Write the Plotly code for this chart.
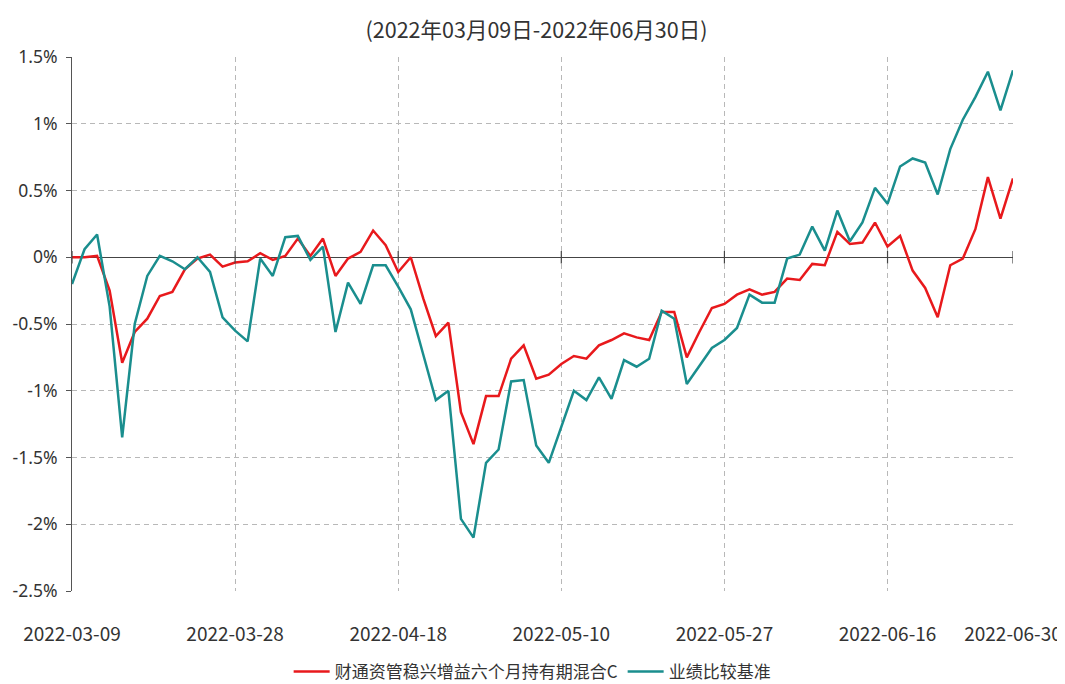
import plotly.graph_objects as go

dates = [
    "2022-03-09", "2022-03-10", "2022-03-11", "2022-03-14", "2022-03-15", "2022-03-16", "2022-03-17", "2022-03-18",
    "2022-03-21", "2022-03-22", "2022-03-23", "2022-03-24", "2022-03-25", "2022-03-28", "2022-03-29", "2022-03-30",
    "2022-03-31", "2022-04-01", "2022-04-06", "2022-04-07", "2022-04-08", "2022-04-11", "2022-04-12", "2022-04-13",
    "2022-04-14", "2022-04-15", "2022-04-18", "2022-04-19", "2022-04-20", "2022-04-21", "2022-04-22", "2022-04-25",
    "2022-04-26", "2022-04-27", "2022-04-28", "2022-04-29", "2022-05-05", "2022-05-06", "2022-05-09", "2022-05-10",
    "2022-05-11", "2022-05-12", "2022-05-13", "2022-05-16", "2022-05-17", "2022-05-18", "2022-05-19", "2022-05-20",
    "2022-05-23", "2022-05-24", "2022-05-25", "2022-05-26", "2022-05-27", "2022-05-30", "2022-05-31", "2022-06-01",
    "2022-06-02", "2022-06-06", "2022-06-07", "2022-06-08", "2022-06-09", "2022-06-10", "2022-06-13", "2022-06-14",
    "2022-06-15", "2022-06-16", "2022-06-17", "2022-06-20", "2022-06-21", "2022-06-22", "2022-06-23", "2022-06-24",
    "2022-06-27", "2022-06-28", "2022-06-29", "2022-06-30",
]

fund = [
    0.00, 0.00, 0.01, -0.25, -0.79, -0.56, -0.46, -0.29, -0.26, -0.09,
    -0.01, 0.02, -0.07, -0.04, -0.03, 0.03, -0.02, 0.01, 0.14, 0.01,
    0.14, -0.14, -0.01, 0.04, 0.20, 0.09, -0.11, 0.00, -0.31, -0.59,
    -0.49, -1.16, -1.40, -1.04, -1.04, -0.76, -0.66, -0.91, -0.88, -0.80,
    -0.74, -0.76, -0.66, -0.62, -0.57, -0.60, -0.62, -0.41, -0.41, -0.75,
    -0.56, -0.38, -0.35, -0.28, -0.24, -0.28, -0.26, -0.16, -0.17, -0.05,
    -0.06, 0.19, 0.10, 0.11, 0.26, 0.08, 0.16, -0.10, -0.23, -0.45,
    -0.06, -0.01, 0.21, 0.60, 0.29, 0.59,
]

bench = [
    -0.20, 0.06, 0.17, -0.37, -1.35, -0.50, -0.14, 0.01, -0.03, -0.09,
    0.00, -0.11, -0.45, -0.55, -0.63, -0.01, -0.14, 0.15, 0.16, -0.02,
    0.08, -0.56, -0.19, -0.35, -0.06, -0.06, -0.22, -0.39, -0.73, -1.07,
    -1.00, -1.96, -2.10, -1.54, -1.44, -0.93, -0.92, -1.41, -1.54, -1.27,
    -1.00, -1.07, -0.90, -1.06, -0.77, -0.82, -0.76, -0.40, -0.46, -0.95,
    -0.81, -0.68, -0.62, -0.53, -0.28, -0.34, -0.34, -0.01, 0.02, 0.23,
    0.05, 0.35, 0.12, 0.26, 0.52, 0.40, 0.68, 0.74, 0.71, 0.47,
    0.81, 1.03, 1.20, 1.39, 1.10, 1.40,
]

tick_dates = ["2022-03-09", "2022-03-28", "2022-04-18", "2022-05-10", "2022-05-27", "2022-06-16", "2022-06-30"]
y_ticks = [1.5, 1, 0.5, 0, -0.5, -1, -1.5, -2, -2.5]
y_tick_text = ["1.5%", "1%", "0.5%", "0%", "-0.5%", "-1%", "-1.5%", "-2%", "-2.5%"]

fund_name = "财通资管稳兴增益六个月持有期混合C"
bench_name = "业绩比较基准"
title_text = "(2022年03月09日-2022年06月30日)"

RED = "#e8191c"
TEAL = "#1a8e8e"
CJK = "Noto Sans CJK SC, Noto Sans, sans-serif"

FIG_W, FIG_H = 1057, 676  # page body has an 8px margin

fig = go.Figure()
fig.add_trace(go.Scatter(x=dates, y=fund, mode="lines", name=fund_name,
                         line=dict(color=RED, width=2.5)))
fig.add_trace(go.Scatter(x=dates, y=bench, mode="lines", name=bench_name,
                         line=dict(color=TEAL, width=2.5)))
# small tick marks on the zero axis line
fig.add_trace(go.Scatter(x=tick_dates, y=[0] * len(tick_dates), mode="markers",
                         marker=dict(symbol="line-ns", size=9,
                                     line=dict(color="#444", width=1.2)),
                         showlegend=False, hoverinfo="skip"))

fig.update_layout(
    width=FIG_W, height=FIG_H,
    paper_bgcolor="white", plot_bgcolor="white",
    margin=dict(l=64, r=52, t=49, b=93, autoexpand=False),
    title=dict(text=title_text, x=0.5, xanchor="center", y=1 - 22 / FIG_H, yanchor="middle",
               font=dict(family=CJK, size=21.5, color="#333")),
    showlegend=True,
    legend=dict(orientation="h", x=0.489, xanchor="center", y=-0.118, yanchor="top",
                font=dict(family=CJK, size=17, color="#333"), itemwidth=36,
                traceorder="normal"),
    xaxis=dict(type="category", categoryorder="array", categoryarray=dates,
               range=[0, len(dates) - 1], automargin=False,
               tickmode="array", tickvals=tick_dates, ticktext=tick_dates,
               showgrid=True, gridcolor="#b8b8b8", griddash="5px,4px", gridwidth=1,
               showline=False, zeroline=False,
               ticks="outside", ticklen=26, tickcolor="rgba(0,0,0,0)",
               tickfont=dict(family=CJK, size=19, color="#333")),
    yaxis=dict(range=[-2.5, 1.5], tickmode="array", tickvals=y_ticks, ticktext=y_tick_text,
               automargin=False,
               showgrid=True, gridcolor="#b8b8b8", griddash="5px,4px", gridwidth=1,
               showline=True, linecolor="#555", linewidth=1,
               ticks="outside", ticklen=5, tickcolor="#555",
               ticklabelstandoff=5,
               zeroline=True, zerolinecolor="#444", zerolinewidth=1.2,
               tickfont=dict(family="Noto Sans, sans-serif", size=17.5, color="#333")),
)

fig.write_html("out.html")
